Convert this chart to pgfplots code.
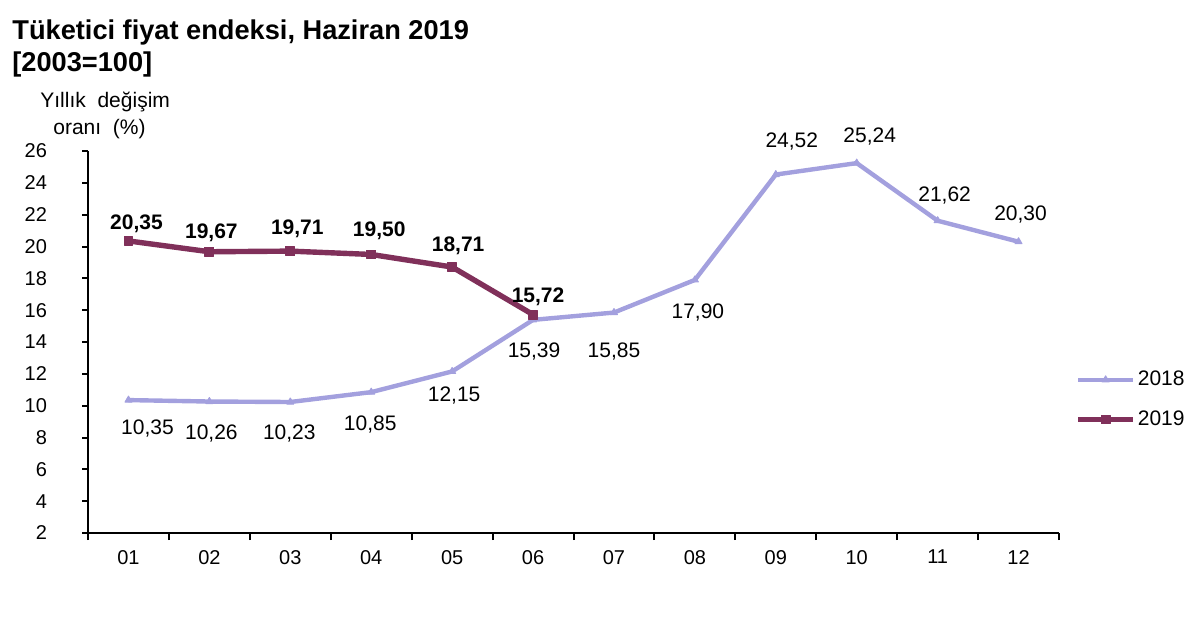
\documentclass[border=0pt]{standalone}
\usepackage{pgfplots}
\pgfplotsset{compat=1.18}
\usepackage{fontspec}
\setmainfont{Liberation Sans}

\definecolor{c2018}{RGB}{163,160,222}
\definecolor{c2019}{RGB}{128,48,90}

% x, value, label shift (pt)
\pgfplotstableread{
x  y      dx    dy
1  10.35  9.5   -14
2  10.26  1     -16
3  10.23  -0.5  -16
4  10.85  -0.5  -16
5  12.15  1     -12
6  15.39  0.5   -16
7  15.85  0     -19.5
8  17.90  1.5   -16.5
9  24.52  8     16.5
10 25.24  6.5   13.5
11 21.62  3.5   12.5
12 20.30  1     13.5
}\dataA

\pgfplotstableread{
x  y      dx    dy
1  20.35  4     8.5
2  19.67  1     9.5
3  19.71  3.5   11
4  19.50  4     12
5  18.71  3     10.5
6  15.72  2.5   9
}\dataB

\begin{document}
\begin{tikzpicture}
\path[use as bounding box] (0pt,0pt) rectangle (600pt,311pt);

\node[anchor=base west, inner sep=0pt, font=\bfseries\fontsize{13.6}{15}\selectfont] at (6pt,291pt) {Tüketici fiyat endeksi, Haziran 2019};
\node[anchor=base west, inner sep=0pt, font=\bfseries\fontsize{13.6}{15}\selectfont] at (6pt,275pt) {[2003=100]};
\node[anchor=base west, inner sep=0pt, font=\fontsize{10.5}{12}\selectfont] at (20pt,257pt) {Yıllık\ \ değişim};
\node[anchor=base west, inner sep=0pt, font=\fontsize{10.5}{12}\selectfont] at (26.5pt,243.5pt) {oranı\ \ (\%)};

\begin{axis}[
    at={(44pt,44.5pt)}, anchor=south west,
    scale only axis, width=485.5pt, height=191pt,
    xmin=0.5, xmax=12.5, ymin=2, ymax=26,
    axis x line=bottom, axis y line=left,
    axis line style={-, black, line width=1.1pt},
    clip=false,
    ytick={2,4,...,26},
    xtick={1,...,12},
    xticklabels={01,02,03,04,05,06,07,08,09,10,11,12},
    minor xtick={0.5,1.5,...,12.5},
    tick align=outside,
    major tick length=3pt, minor tick length=3.5pt,
    major x tick style={draw=none},
    minor x tick style={black, line width=1pt},
    ytick style={black, line width=1pt},
    /pgf/number format/assume math mode=true,
    yticklabel style={font=\fontsize{10}{12}\selectfont, xshift=-14pt},
    xticklabel style={font=\fontsize{10}{12}\selectfont, yshift=-2pt},
    legend style={at={(1.0165,0.349)}, anchor=west, draw=none, fill=none,
        inner sep=0pt, row sep=9pt, font=\fontsize{10.5}{12}\selectfont,
        nodes={inner sep=1pt}},
    legend cell align=left,
    legend image code/.code={\draw[mark repeat=2,mark phase=2,#1]
        plot coordinates {(0pt,0pt) (13.75pt,0pt) (27.5pt,0pt)};},
]
\addplot[c2018, line width=2.2pt, line join=round, mark=triangle*, mark size=2pt,
    mark options={solid, line width=0.5pt},
    nodes near coords={\pgfmathprintnumber[fixed,fixed zerofill,precision=2,use comma]{\pgfplotspointmeta}},
    visualization depends on={\thisrow{dx} \as \dx},
    visualization depends on={\thisrow{dy} \as \dy},
    every node near coord/.append style={anchor=center, black, inner sep=0pt,
        xshift=\dx*1pt, yshift=\dy*1pt, font=\fontsize{10.5}{12}\selectfont}]
    table[x=x, y=y, meta=y] {\dataA};
\addlegendentry{2018}
\addplot[c2019, line width=2.7pt, line join=round, mark=square*, mark size=2.2pt,
    mark options={solid, line width=0.5pt},
    nodes near coords={\pgfmathprintnumber[fixed,fixed zerofill,precision=2,use comma]{\pgfplotspointmeta}},
    visualization depends on={\thisrow{dx} \as \dx},
    visualization depends on={\thisrow{dy} \as \dy},
    every node near coord/.append style={anchor=center, black, inner sep=0pt,
        xshift=\dx*1pt, yshift=\dy*1pt, font=\bfseries\fontsize{10.5}{12}\selectfont}]
    table[x=x, y=y, meta=y] {\dataB};
\addlegendentry{2019}
\end{axis}
\end{tikzpicture}
\end{document}
